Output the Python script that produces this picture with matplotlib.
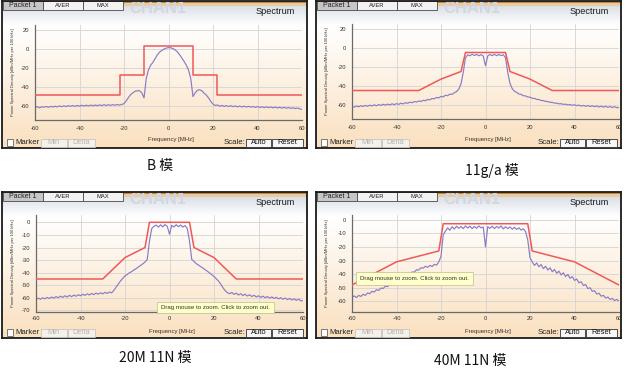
import numpy as np
import matplotlib
matplotlib.use('Agg')
import matplotlib.pyplot as plt
from matplotlib.patches import Rectangle
from matplotlib.colors import LinearSegmentedColormap

plt.rcParams['font.family'] = ['Liberation Sans', 'DejaVu Sans']
plt.rcParams['axes.unicode_minus'] = False

# ---------------- data ----------------
freq = np.arange(-60, 61)  # MHz, 1 MHz steps

b_trace = [
    -61.5, -60.6, -61.8, -60.9, -61.2, -60.5, -61.3, -60.4, -61.0, -60.2,
    -60.9, -59.9, -60.7, -59.8, -60.5, -59.6, -60.3, -59.5, -60.4, -59.4,
    -60.1, -59.2, -60.0, -59.1, -59.9, -59.0, -59.8, -58.9, -59.6, -58.8,
    -59.5, -58.7, -59.4, -58.6, -59.3, -58.5, -59.2, -58.4, -59.0, -58.3,
    -57.5, -54.5, -51.0, -48.0, -46.0, -44.5, -43.8, -44.0, -46.0, -51.5,
    -31.0, -22.0, -17.0, -14.0, -10.0, -6.0, -3.2, -1.5, 0.0, 1.0,
    1.5, 1.3, 0.5, -1.0, -3.0, -6.0, -9.5, -13.0, -17.0, -22.0,
    -31.0, -50.0, -46.0, -43.5, -42.8, -44.0, -46.5, -48.5, -51.5, -55.0,
    -58.0, -59.4, -58.9, -60.2, -59.3, -60.4, -59.5, -60.6, -59.6, -60.7,
    -59.8, -60.9, -60.0, -61.0, -60.1, -61.1, -60.3, -61.2, -60.5, -61.4,
    -60.6, -61.5, -60.8, -61.6, -60.9, -61.7, -61.0, -61.9, -61.1, -62.0,
    -61.3, -62.2, -61.4, -62.3, -61.6, -62.5, -61.8, -62.7, -62.0, -63.0,
    -63.5]
b_mask_f = [-60, -22, -22, -11, -11, 11, 11, 22, 22, 60]
b_mask_v = [-48, -48, -27.5, -27.5, 3, 3, -27.5, -27.5, -48, -48]

g_trace = [
    -61.8, -62.6, -61.3, -62.2, -61.0, -61.9, -60.7, -61.6, -60.4, -61.3,
    -60.1, -61.1, -59.8, -60.7, -59.5, -60.4, -59.3, -60.2, -59.0, -59.9,
    -58.8, -59.6, -58.4, -59.1, -57.8, -58.5, -57.3, -57.9, -56.6, -57.2,
    -56.0, -56.6, -55.3, -55.8, -54.4, -54.9, -53.4, -53.8, -52.3, -52.8,
    -51.2, -51.7, -50.0, -50.5, -48.8, -49.1, -47.3, -46.2, -43.5, -38.0,
    -26.0, -10.5, -7.5, -8.4, -6.8, -8.2, -7.0, -8.5, -7.2, -8.8,
    -19.0, -8.6, -7.1, -8.3, -6.9, -8.4, -7.1, -8.2, -7.4, -10.5,
    -26.0, -37.5, -43.0, -45.8, -46.9, -48.7, -49.1, -50.5, -50.7, -51.9,
    -52.0, -53.2, -53.3, -54.4, -54.5, -55.5, -55.6, -56.5, -56.6, -57.4,
    -57.5, -58.3, -58.3, -59.0, -58.9, -59.6, -59.4, -60.1, -59.8, -60.5,
    -60.1, -60.9, -60.4, -61.4, -60.7, -61.6, -60.9, -61.8, -61.1, -62.0,
    -61.3, -62.3, -61.5, -62.5, -61.7, -62.7, -61.9, -62.9, -62.1, -63.1,
    -62.8]
g_mask_f = [-60, -30, -20, -11, -9, 9, 11, 20, 30, 60]
g_mask_v = [-45, -45, -33, -25, -5, -5, -25, -33, -45, -45]

n20_trace = [
    -61.2, -60.2, -61.1, -59.9, -60.8, -59.6, -60.5, -59.3, -60.2, -59.0,
    -59.9, -58.6, -59.6, -58.3, -59.3, -58.0, -59.0, -57.8, -58.7, -57.5,
    -58.3, -57.1, -58.0, -56.8, -57.7, -56.5, -57.4, -56.2, -57.1, -55.9,
    -56.8, -55.6, -56.5, -55.3, -56.0, -54.0, -51.5, -49.0, -46.5, -44.5,
    -42.5, -41.5, -40.0, -39.2, -37.8, -36.8, -35.5, -34.2, -33.0, -31.5,
    -29.5, -15.0, -5.0, -3.2, -2.2, -3.8, -2.0, -3.6, -1.8, -3.2,
    -9.5, -2.4, -3.7, -1.9, -3.5, -2.2, -3.8, -2.6, -5.0, -15.0,
    -29.5, -31.0, -32.8, -33.9, -35.2, -36.3, -37.6, -38.8, -40.2, -41.6,
    -43.0, -44.8, -46.6, -49.0, -51.8, -54.2, -55.8, -56.7, -55.7, -57.2,
    -56.2, -57.7, -56.7, -58.1, -57.1, -58.5, -57.5, -58.9, -57.9, -59.3,
    -58.3, -59.6, -58.6, -59.9, -58.9, -60.2, -59.2, -60.5, -59.5, -60.8,
    -59.8, -61.1, -60.1, -61.4, -60.4, -61.7, -60.7, -62.0, -61.0, -62.3,
    -62.2]
n20_mask_f = [-60, -30, -20, -11, -9, 9, 11, 20, 30, 60]
n20_mask_v = [-45, -45, -28, -20, 0, 0, -20, -28, -45, -45]

n40_trace = [
    -57.0, -56.0, -57.2, -55.6, -56.4, -54.8, -55.6, -53.8, -54.4, -52.6,
    -53.2, -51.4, -52.0, -50.2, -50.6, -48.8, -49.2, -47.4, -47.6, -45.6,
    -46.0, -44.2, -44.2, -42.4, -42.6, -40.6, -40.4, -38.4, -38.6, -36.8,
    -37.0, -35.4, -35.6, -34.2, -35.0, -33.6, -34.4, -32.8, -33.4, -31.0,
    -27.0, -11.0, -8.5, -6.0, -7.8, -5.2, -6.9, -4.8, -6.4, -5.0,
    -6.6, -4.6, -6.2, -4.8, -6.6, -5.0, -6.4, -4.6, -6.0, -5.4,
    -20.0, -5.2, -6.4, -4.8, -6.6, -5.0, -6.2, -4.6, -6.8, -5.2,
    -6.6, -5.4, -7.0, -5.6, -7.2, -6.0, -7.6, -6.8, -8.8, -15.0,
    -28.0, -31.0, -33.6, -31.8, -34.6, -33.0, -36.0, -34.2, -37.0, -35.4,
    -38.2, -36.6, -39.4, -37.8, -40.6, -39.0, -41.8, -40.2, -43.0, -41.8,
    -44.6, -43.6, -46.4, -45.6, -48.4, -47.6, -50.6, -50.0, -52.6, -52.2,
    -54.6, -54.0, -56.2, -55.6, -57.6, -56.8, -58.6, -57.8, -59.4, -58.6,
    -59.6]
n40_mask_f = [-60, -40, -21, -19, 19, 21, 40, 60]
n40_mask_v = [-48, -31, -23, -3, -3, -23, -31, -48]

x_ticks = [-60, -40, -20, 0, 20, 40, 60]
yt_wide = [-60, -40, -20, 0, 20]
yt_20 = [-70, -60, -50, -40, -30, -20, -10, 0]
yt_40 = [-60, -50, -40, -30, -20, -10, 0]

captions = ['B 模', '11g/a 模', '20M 11N 模', '40M 11N 模']

# ---------------- drawing ----------------
W, H = 626, 372
fig = plt.figure(figsize=(6.26, 3.72), dpi=100)
fig.patch.set_facecolor('white')

MASK_C = '#f05858'
TRACE_C = '#8a7bc4'


def button(a, x0, x1, yc, label, fc, ec, tc, hgt=8):
    a.add_patch(Rectangle((x0, yc - hgt / 2), x1 - x0, hgt, fc=fc, ec=ec, lw=0.6, zorder=5))
    a.text((x0 + x1) / 2, yc + 0.3, label, ha='center', va='center', fontsize=5.4,
           color=tc, zorder=6)


def add_panel(px, py, pw, ph, box, ylim, yticks, trace, mf, mv, tick_pad_x, tooltip=None,
              xlab_off=9):
    # panel background
    bg = fig.add_axes([px / W, 1 - (py + ph) / H, pw / W, ph / H])
    stops = [(0.0, '#d2d7df'), (10 / ph, '#e5e8ee'), (24 / ph, '#ffffff'), (1.0, '#fae0bf')]
    cmap = LinearSegmentedColormap.from_list('pg', stops)
    grad = np.linspace(0, 1, 256).reshape(-1, 1)
    bg.imshow(grad, cmap=cmap, extent=[0, pw, ph, 0], aspect='auto', zorder=0)
    bg.set_xlim(0, pw)
    bg.set_ylim(ph, 0)
    bg.set_xticks([])
    bg.set_yticks([])
    for s in bg.spines.values():
        s.set_color('#1a1a1a')
        s.set_linewidth(1.3)

    # header strip
    bg.add_patch(Rectangle((120, 0), pw - 120, 2.2, fc='#c4843a', lw=0, zorder=1))
    bg.add_patch(Rectangle((120, 2.2), pw - 120, 2.5, fc='#e6cba3', lw=0, zorder=1))
    bg.text(127, 7.5, 'CHAN1', fontsize=12, fontweight='bold', color='#d3d6dc',
            ha='left', va='center', zorder=1)
    for lab, x0, x1, fc in [('Packet 1', 1, 41, '#c6c6c6'), ('AVER', 41, 81, '#f2f2f2'),
                            ('MAX', 81, 121, '#f2f2f2')]:
        bg.add_patch(Rectangle((x0, 0.3), x1 - x0, 8.7, fc=fc, ec='#4a4a4a', lw=0.6, zorder=2))
        bg.text((x0 + x1) / 2, 4.9, lab, ha='center', va='center',
                fontsize=5.0 if lab == 'Packet 1' else 4.2, color='#222', zorder=3)
    bg.text(pw - 12, 10.5, 'Spectrum', ha='right', va='center', fontsize=6.6, color='#1a1a1a')

    bx0, by0, bx1, by1 = box
    bg.text(11, (by0 + by1) / 2, 'Power Spectral Density [dBm/MHz per 100 kHz]',
            rotation=90, fontsize=3.0, ha='center', va='center', color='#333')
    row = ph - 5.5
    bg.text((bx0 + bx1) / 2 + 2, ph - xlab_off, 'Frequency [MHz]', ha='center', va='center',
            fontsize=4.3, color='#333')
    bg.add_patch(Rectangle((5, row - 3.2), 6.2, 6.2, fc='white', ec='#666', lw=0.6, zorder=5))
    bg.text(13, row + 0.2, 'Marker', ha='left', va='center', fontsize=5.6, color='#222')
    button(bg, 38.5, 65, row, 'Min', '#f4f0ea', '#c9c5bf', '#b5b5b5')
    button(bg, 66, 93, row, 'Delta', '#f4f0ea', '#c9c5bf', '#b5b5b5')
    bg.text(243, row + 0.2, 'Scale:', ha='right', va='center', fontsize=5.6, color='#222')
    button(bg, 244, 269, row, 'Auto', '#f7f7f7', '#333333', '#111')
    button(bg, 270, 301, row, 'Reset', '#f7f7f7', '#333333', '#111')

    # plot area
    ax = fig.add_axes([(px + bx0) / W, 1 - (py + by1) / H, (bx1 - bx0) / W, (by1 - by0) / H])
    ax.patch.set_alpha(0)
    ax.plot(freq, trace, color=TRACE_C, lw=0.85, zorder=2)
    ax.plot(mf, mv, color=MASK_C, lw=1.1, zorder=3)
    ax.set_xlim(-60, 60)
    ax.set_ylim(*ylim)
    ax.set_xticks(x_ticks)
    ax.set_yticks(yticks)
    ax.grid(True, color='#d4d4d4', lw=0.6)
    ax.set_axisbelow(True)
    for k in ['top', 'right']:
        ax.spines[k].set_visible(False)
    for k in ['left', 'bottom']:
        ax.spines[k].set_color('#6a6a6a')
        ax.spines[k].set_linewidth(0.9)
    ax.tick_params(length=0, labelsize=4.2, colors='#333')
    ax.tick_params(axis='y', pad=4.3)
    ax.tick_params(axis='x', pad=tick_pad_x)

    if tooltip is not None:
        ov = fig.add_axes([px / W, 1 - (py + ph) / H, pw / W, ph / H])
        ov.set_xlim(0, pw)
        ov.set_ylim(ph, 0)
        ov.axis('off')
        ov.patch.set_alpha(0)
        tx0, ty0, tx1, ty1 = tooltip
        ov.add_patch(Rectangle((tx0, ty0), tx1 - tx0, ty1 - ty0, fc='#ffffc9', ec='#bdbb98',
                               lw=0.5, zorder=10))
        ov.text((tx0 + tx1) / 2, (ty0 + ty1) / 2, 'Drag mouse to zoom. Click to zoom out.',
                ha='center', va='center', fontsize=4.4, color='#333', zorder=11)


add_panel(2, 1, 305, 147, (33, 24, 300, 119), (-74.7, 25.3), yt_wide,
          b_trace, b_mask_f, b_mask_v, 4.3)
add_panel(316, 1, 305, 147, (36, 23, 303, 118), (-75, 25), yt_wide,
          g_trace, g_mask_f, g_mask_v, 4.3)
add_panel(2, 192, 305, 146, (34, 23, 301, 120), (-71.2, 5.8), yt_20,
          n20_trace, n20_mask_f, n20_mask_v, 3.0, tooltip=(155, 110, 272, 121), xlab_off=6)
add_panel(316, 192, 305, 146, (36, 23, 303, 120), (-67.8, 3.4), yt_40,
          n40_trace, n40_mask_f, n40_mask_v, 3.0, tooltip=(40, 80, 157, 93), xlab_off=6)

cap_pos = [(160, 166), (492, 170), (155, 358), (470, 361)]
for (cx, cy), t in zip(cap_pos, captions):
    fig.text(cx / W, 1 - cy / H, t, ha='center', va='center', fontsize=10,
             family=['Noto Sans CJK SC', 'DejaVu Sans'], color='#111')

fig.savefig('out.png', dpi=100)
